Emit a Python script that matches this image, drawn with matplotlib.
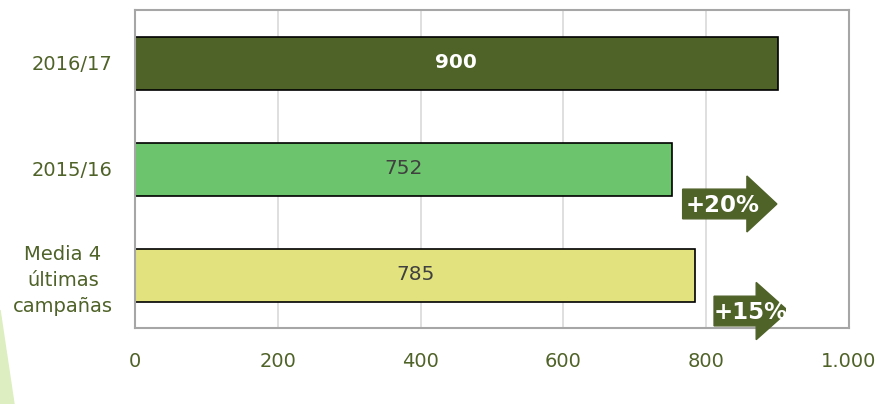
import matplotlib
matplotlib.use('Agg')
import matplotlib.pyplot as plt
from matplotlib.patches import Polygon, Rectangle

categories = ['2016/17', '2015/16', 'Media 4\núltimas\ncampañas']
values = [900, 752, 785]
bar_colors = ['#4F6228', '#6CC46C', '#E2E27E']
label_colors = ['white', '#404040', '#404040']
label_weights = ['bold', 'normal', 'normal']
xticks = [0, 200, 400, 600, 800, 1000]
xtick_labels = ['0', '200', '400', '600', '800', '1.000']
olive = '#4F6228'

plt.rcParams['font.family'] = ['DejaVu Sans']
fig = plt.figure(figsize=(8.85, 4.04), dpi=100)
ax = fig.add_axes([135/885, 76/404, 714/885, 318/404])

# light green wedge in the corner
fig.patches.append(Polygon([[0, 0], [14/885, 0], [0, 94/404]], closed=True,
                           transform=fig.transFigure, color='#DDEFC0', zorder=0))

pos = list(range(len(categories)))
ax.barh(pos, values, height=0.5, color=bar_colors, edgecolor='black', linewidth=1.2, zorder=2)
for p, v, c, w in zip(pos, values, label_colors, label_weights):
    ax.text(v / 2, p, str(v), ha='center', va='center', color=c, fontsize=14.5, fontweight=w, zorder=3)

ax.set_xlim(0, 1000)
ax.set_ylim(2.5, -0.5)
ax.set_xticks(xticks)
ax.set_xticklabels(xtick_labels)
ax.set_yticks(pos)
ax.set_yticklabels(categories, multialignment='center', linespacing=1.45)
ax.tick_params(axis='x', length=0, pad=17, labelsize=14, labelcolor=olive)
ax.tick_params(axis='y', length=0, pad=16, labelsize=14, labelcolor=olive)
ax.grid(axis='x', color='#D9D9D9', linewidth=1.2, zorder=0)
ax.set_axisbelow(True)
for s in ax.spines.values():
    s.set_color('#A6A6A6')
    s.set_linewidth(1.5)


def arrow(x0, xh, xt, yc, bh, hh, text, tx, clip_x=None):
    pts = [[x0, yc - bh], [xh, yc - bh], [xh, yc - hh], [xt, yc],
           [xh, yc + hh], [xh, yc + bh], [x0, yc + bh]]
    poly = Polygon(pts, closed=True, color=olive, zorder=5, clip_on=False)
    ax.add_patch(poly)
    t = ax.text(tx, yc + 0.01, text, ha='left', va='center', color='white',
                fontsize=16.5, fontweight='bold', zorder=6, clip_on=False)
    if clip_x is not None:
        r = Rectangle((-500, -2), clip_x + 500, 6, transform=ax.transData, visible=False)
        ax.add_patch(r)
        poly.set_clip_on(True)
        poly.set_clip_path(r)
        t.set_clip_on(True)
        t.set_clip_path(r)


arrow(767, 857, 899, 1.33, 0.14, 0.264, '+20%', 771)
arrow(811, 870, 915, 2.34, 0.14, 0.27, '+15%', 810, clip_x=912)

fig.savefig('out.png', dpi=100)
